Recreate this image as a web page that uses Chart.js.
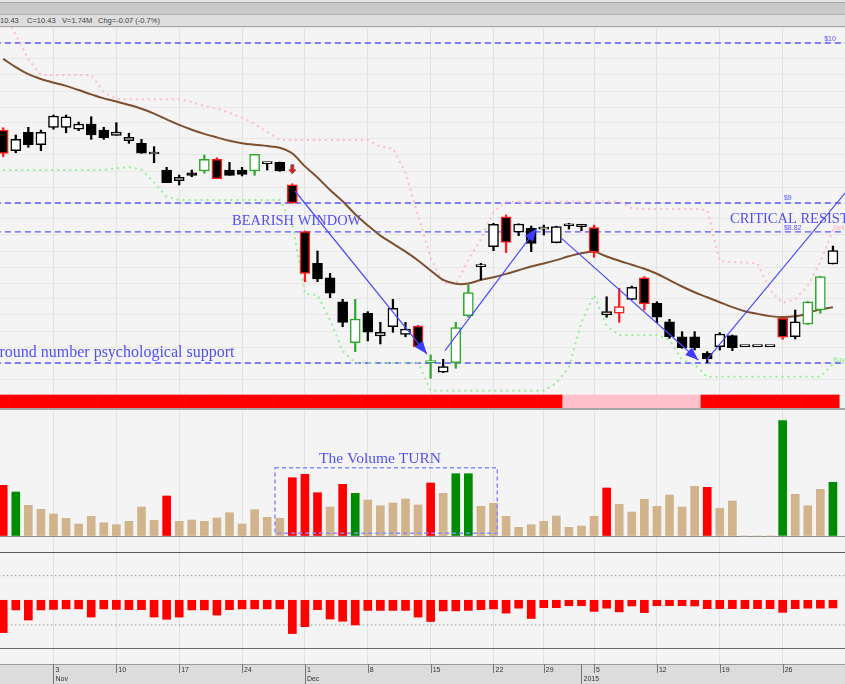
<!DOCTYPE html>
<html>
<head>
<meta charset="utf-8">
<script src="https://cdn.jsdelivr.net/npm/chart.js@4.4.1/dist/chart.umd.min.js"></script>
<style>
  body { margin:0; width:845px; height:684px; overflow:hidden; background:#f4f4f4; position:relative; font-family:"Liberation Sans", Arial, sans-serif; }
  .pane { position:absolute; left:0; width:845px; }
  .rule { position:absolute; left:0; width:845px; z-index:5; }
  .hd { position:absolute; top:16px; font-size:7.5px; color:#444; white-space:nowrap; z-index:6; }
</style>
</head>
<body>
<div class="rule" style="top:0;height:2px;background:#e4e4e4"></div>
<div class="rule" style="top:2px;height:1px;background:#a4a4a4"></div>
<div class="rule" style="top:3px;height:11px;background:#c9c9c9"></div>
<div class="rule" style="top:14px;height:1px;background:#b4b4b4"></div>
<div class="rule" style="top:15px;height:11px;background:#dedede"></div>
<div class="rule" style="top:26px;height:1px;background:#a4a4a4"></div>
<span class="hd" style="left:0">10.43</span>
<span class="hd" style="left:27px">C=10.43</span>
<span class="hd" style="left:62px">V=1.74M</span>
<span class="hd" style="left:98px">Chg=-0.07 (-0.7%)</span>

<div class="pane" style="top:27px;height:382px"><canvas id="price"></canvas></div>
<div class="pane" style="top:409px;height:143px"><canvas id="volume"></canvas></div>
<div class="pane" style="top:552px;height:132px"><canvas id="osc"></canvas></div>

<div class="rule" style="top:408px;height:2px;background:#a6a6a6"></div>
<div class="rule" style="top:552px;height:1px;background:#5a5a5a"></div>
<div class="rule" style="top:648px;height:1px;background:#6a6a6a"></div>

<script>
// trading days shown
const dates = [
  '2014-10-28','2014-10-29','2014-10-30','2014-10-31',
  '2014-11-03','2014-11-04','2014-11-05','2014-11-06','2014-11-07',
  '2014-11-10','2014-11-11','2014-11-12','2014-11-13','2014-11-14',
  '2014-11-17','2014-11-18','2014-11-19','2014-11-20','2014-11-21',
  '2014-11-24','2014-11-25','2014-11-26','2014-11-27','2014-11-28',
  '2014-12-01','2014-12-02','2014-12-03','2014-12-04','2014-12-05',
  '2014-12-08','2014-12-09','2014-12-10','2014-12-11','2014-12-12',
  '2014-12-15','2014-12-16','2014-12-17','2014-12-18','2014-12-19',
  '2014-12-22','2014-12-23','2014-12-24','2014-12-26',
  '2014-12-29','2014-12-30','2014-12-31',
  '2015-01-02','2015-01-05','2015-01-06','2015-01-07','2015-01-08','2015-01-09',
  '2015-01-12','2015-01-13','2015-01-14','2015-01-15','2015-01-16',
  '2015-01-19','2015-01-20','2015-01-21','2015-01-22','2015-01-23',
  '2015-01-26','2015-01-27','2015-01-28','2015-01-29','2015-01-30'
];

const opens = [9.456,9.327,9.442,9.364,9.473,9.473,9.461,9.494,9.456,9.423,
  9.389,9.373,9.306,9.206,9.139,9.189,9.200,9.273,9.206,9.206,
  9.200,9.246,9.254,9.113,8.821,8.623,8.533,8.383,8.127,8.311,
  8.169,8.227,8.179,8.231,8.002,7.942,8.002,8.296,8.602,8.727,
  8.914,8.817,8.842,8.837,8.752,8.858,8.852,8.846,8.300,8.311,
  8.398,8.533,8.373,8.258,8.164,8.164,8.061,8.102,8.171,8.102,
  8.102,8.102,8.279,8.164,8.242,8.331,8.619];
const highs = [9.470,9.425,9.473,9.456,9.550,9.550,9.506,9.539,9.473,9.502,
  9.436,9.398,9.352,9.223,9.175,9.206,9.300,9.283,9.254,9.223,
  9.304,9.250,9.256,9.120,8.825,8.700,8.560,8.398,8.398,8.321,
  8.254,8.398,8.254,8.235,8.050,8.023,8.254,8.488,8.623,8.873,
  8.925,8.870,8.856,8.862,8.855,8.873,8.867,8.862,8.414,8.467,
  8.481,8.540,8.383,8.273,8.196,8.196,8.071,8.190,8.175,8.102,
  8.102,8.102,8.280,8.331,8.385,8.542,8.731];
const lows = [9.290,9.314,9.348,9.327,9.461,9.439,9.452,9.398,9.398,9.423,
  9.373,9.311,9.252,9.127,9.113,9.164,9.186,9.152,9.173,9.169,
  9.173,9.206,9.198,8.998,8.508,8.508,8.408,8.227,8.071,8.138,
  8.119,8.192,8.164,8.100,7.904,7.940,7.967,8.286,8.519,8.702,
  8.690,8.796,8.696,8.800,8.750,8.837,8.827,8.661,8.286,8.254,
  8.396,8.331,8.252,8.154,8.092,8.081,8.002,8.081,8.077,8.102,
  8.102,8.102,8.148,8.150,8.240,8.311,8.619];
const closes = [9.310,9.398,9.364,9.442,9.544,9.539,9.494,9.425,9.408,9.444,
  9.411,9.311,9.306,9.127,9.161,9.173,9.273,9.152,9.173,9.179,
  9.304,9.246,9.200,9.000,8.560,8.525,8.436,8.254,8.275,8.192,
  8.192,8.342,8.212,8.102,8.002,7.977,8.221,8.440,8.602,8.867,
  8.754,8.869,8.748,8.837,8.852,8.858,8.867,8.692,8.321,8.352,
  8.473,8.369,8.286,8.164,8.096,8.096,8.025,8.181,8.096,8.102,
  8.102,8.102,8.161,8.258,8.383,8.540,8.702];
// candle highlight: r = red outline, g = green outline
const candleMark = ['r','','','','','','','','','',
  '','','','','','','g','r','','',
  'g','','','r','r','','','','g','',
  '','','','r','g','','g','g','','',
  'r','','','','','','','r','','r',
  '','r','','','','','','','','',
  '','','r','','g','g',''];

const movingAvg = [9.901,9.849,9.805,9.775,9.752,9.732,9.706,9.679,9.654,9.634,
  9.613,9.589,9.559,9.523,9.488,9.458,9.432,9.410,9.389,9.374,
  9.364,9.356,9.345,9.309,9.229,9.160,9.081,9.011,8.930,8.860,
  8.796,8.746,8.696,8.641,8.578,8.519,8.495,8.497,8.520,8.536,
  8.557,8.580,8.603,8.622,8.643,8.667,8.686,8.695,8.666,8.639,
  8.614,8.589,8.558,8.518,8.478,8.442,8.411,8.380,8.349,8.323,
  8.307,8.293,8.287,8.292,8.311,8.336,8.348];
const sellStop = [10.20,10.05,9.897,9.800,9.800,9.800,9.800,9.800,9.694,9.648,
  9.648,9.648,9.648,9.648,9.648,9.631,9.606,9.591,9.563,9.534,
  9.494,9.444,9.394,9.394,9.394,9.394,9.394,9.394,9.394,9.394,
  9.352,9.341,9.190,8.920,8.660,8.500,8.494,8.644,8.775,8.944,
  9.008,9.008,9.008,9.008,9.008,9.008,9.008,9.008,9.008,9.008,
  8.967,8.963,8.963,8.963,8.963,8.963,8.956,8.638,8.631,8.628,
  8.623,8.456,8.375,8.400,8.481,8.631,8.831];
const buyStop = [9.206,9.206,9.206,9.206,9.206,9.206,9.206,9.206,9.206,9.216,
  9.225,9.209,9.128,9.039,9.019,9.019,9.019,9.019,9.019,9.019,
  9.019,9.019,9.019,8.869,8.431,8.425,8.269,8.075,8.002,8.002,
  8.002,8.002,8.002,8.002,7.828,7.827,7.827,7.827,7.827,7.827,
  7.827,7.827,7.827,7.827,7.875,7.975,8.256,8.425,8.231,8.175,
  8.175,8.175,8.175,8.144,8.019,7.990,7.913,7.914,7.914,7.914,
  7.914,7.914,7.914,7.914,7.914,7.914,7.994];
// 1 = down trend (red), 0 = neutral (pink)
const trendState = [1,1,1,1,1,1,1,1,1,1, 1,1,1,1,1,1,1,1,1,1,
  1,1,1,1,1,1,1,1,1,1, 1,1,1,1,1,1,1,1,1,1, 1,1,1,1,1,
  0,0,0,0,0,0,0,0,0,0,0, 1,1,1,1,1,1,1,1,1,1,1];
const priceLevels = [10, 9, 8.82, 8];

// volume, millions
const volume = [1.014,0.880,0.614,0.534,0.440,0.354,0.240,0.394,0.266,0.226,
  0.294,0.580,0.314,0.800,0.294,0.320,0.294,0.360,0.466,0.240,
  0.526,0.374,0.354,1.166,1.234,0.866,0.580,1.034,0.854,0.720,
  0.606,0.660,0.740,0.620,1.060,0.854,1.246,1.246,0.594,0.654,
  0.394,0.174,0.226,0.294,0.400,0.174,0.200,0.394,0.960,0.634,
  0.480,0.734,0.594,0.820,0.580,0.994,0.974,0.554,0.700,0,
  0,0,2.306,0.834,0.606,0.934,1.074];
const volumeMark = ['r','g','','','','','','','','',
  '','','','r','','','','','','',
  '','','','r','r','r','','r','g','',
  '','','','','r','','g','g','','',
  '','','','','','','','','r','',
  '','','','','','','r','','','',
  '','','g','','','','g'];

const oscillator = [-1.31,-0.39,-0.80,-0.39,-0.37,-0.35,-0.35,-0.68,-0.35,-0.37,
  -0.38,-0.38,-0.68,-0.77,-0.68,-0.39,-0.39,-0.60,-0.38,-0.35,
  -0.35,-0.35,-0.35,-1.35,-1.07,-0.38,-0.76,-0.85,-1.00,-0.41,
  -0.41,-0.41,-0.41,-0.68,-0.86,-0.43,-0.43,-0.41,-0.38,-0.35,
  -0.52,-0.32,-0.74,-0.30,-0.30,-0.22,-0.22,-0.45,-0.32,-0.47,
  -0.23,-0.50,-0.22,-0.22,-0.22,-0.23,-0.34,-0.34,-0.34,-0.34,
  -0.34,-0.34,-0.49,-0.34,-0.32,-0.32,-0.31];
const oscLevels = [1, -1];

// trend arrows drawn on the price panel: [index, price]
const arrowFrom = [[23.21, 9.075], [35.14, 8.077], [44.42, 8.779], [55.96, 8.019]];
const arrowTo   = [[33.71, 8.056], [42.44, 8.842], [55.29, 8.019], [68.0, 9.160]];
const arrowHead = [true, true, true, false];
const sellSignals = [23];

const X_MIN = -0.255, X_MAX = 66.96;
const BLUE = '#5555ff';
const monthNames = ['Jan','Feb','Mar','Apr','May','Jun','Jul','Aug','Sep','Oct','Nov','Dec'];

const dayInfo = dates.map((d, i) => {
  const dt = new Date(d + 'T00:00:00Z');
  const prev = i > 0 ? new Date(dates[i - 1] + 'T00:00:00Z') : null;
  return { monday: dt.getUTCDay() === 1, monthStart: prev !== null && prev.getUTCMonth() !== dt.getUTCMonth(), dt: dt };
});
const tickIdx = [];
dayInfo.forEach((d, i) => { if (d.monday || d.monthStart) tickIdx.push(i); });

function tickLabel(i) {
  const d = dayInfo[i];
  const top = d.monday ? String(d.dt.getUTCDate()) : '';
  if (!d.monthStart) return top;
  const m = d.dt.getUTCMonth();
  return [top, m === 0 ? String(d.dt.getUTCFullYear()) : monthNames[m]];
}

function xAxis(labels) {
  const ax = {
    type: 'linear', min: X_MIN, max: X_MAX, offset: false,
    afterBuildTicks: s => { s.ticks = tickIdx.map(i => ({ value: i, major: dayInfo[i].monthStart })); },
    grid: {
      color: c => (c.tick && !dayInfo[c.tick.value].monday) ? 'rgba(0,0,0,0)' : '#e2e2e2',
      drawTicks: false, lineWidth: 1, offset: false
    },
    border: { display: false },
    ticks: { display: false }
  };
  if (labels) {
    ax.ticks = {
      display: true, autoSkip: false, maxRotation: 0, align: 'start', labelOffset: 2, padding: 2,
      color: '#333', font: { family: 'Liberation Sans', size: 7, lineHeight: 1.29 },
      callback: v => tickLabel(v)
    };
    ax.border = { display: true, color: '#9a9a9a', width: 1 };
    ax.backgroundColor = '#dcdcdc';
    ax.afterFit = s => { s.height = 20; };
  }
  return ax;
}

const pts = arr => arr.map((v, i) => ({ x: i, y: v }));
const hline = v => [{ x: X_MIN - 2, y: v }, { x: X_MAX + 2, y: v }];

const marks = {
  id: 'marks',
  afterDatasetsDraw(chart, args, o) {
    const ctx = chart.ctx, xs = chart.scales.x, ys = chart.scales.y;
    ctx.save();
    (o.boxes || []).forEach(b => {
      ctx.setLineDash([4, 3]);
      ctx.strokeStyle = b.color; ctx.lineWidth = 1.5;
      const x1 = xs.getPixelForValue(b.x0), x2 = xs.getPixelForValue(b.x1);
      const y1 = ys.getPixelForValue(b.y1), y2 = ys.getPixelForValue(b.y0);
      ctx.strokeRect(x1, y1, x2 - x1, y2 - y1);
    });
    ctx.setLineDash([]);
    (o.heads || []).forEach(h => {
      const ax = xs.getPixelForValue(h.from[0]), ay = ys.getPixelForValue(h.from[1]);
      const bx = xs.getPixelForValue(h.to[0]), by = ys.getPixelForValue(h.to[1]);
      const ang = Math.atan2(by - ay, bx - ax), L = 13, W = 5;
      ctx.fillStyle = h.color;
      ctx.beginPath();
      ctx.moveTo(bx, by);
      ctx.lineTo(bx - L * Math.cos(ang) + W * Math.sin(ang), by - L * Math.sin(ang) - W * Math.cos(ang));
      ctx.lineTo(bx - L * Math.cos(ang) - W * Math.sin(ang), by - L * Math.sin(ang) + W * Math.cos(ang));
      ctx.closePath(); ctx.fill();
    });
    (o.signals || []).forEach(i => {
      const x = xs.getPixelForValue(i), y = ys.getPixelForValue(highs[i]) - 19;
      ctx.fillStyle = '#ff1010'; ctx.strokeStyle = '#555'; ctx.lineWidth = 0.8;
      ctx.beginPath();
      ctx.moveTo(x - 1.5, y); ctx.lineTo(x + 1.5, y); ctx.lineTo(x + 1.5, y + 5);
      ctx.lineTo(x + 3.5, y + 5); ctx.lineTo(x, y + 9); ctx.lineTo(x - 3.5, y + 5);
      ctx.lineTo(x - 1.5, y + 5); ctx.closePath();
      ctx.fill(); ctx.stroke();
    });
    (o.texts || []).forEach(t => {
      ctx.font = t.font; ctx.fillStyle = t.color; ctx.textBaseline = 'alphabetic'; ctx.textAlign = 'left';
      ctx.fillText(t.text, xs.getPixelForValue(t.x), ys.getPixelForValue(t.y));
    });
    ctx.restore();
  }
};

const dateTicks = {
  id: 'dateTicks',
  afterDraw(chart) {
    const xs = chart.scales.x, ctx = chart.ctx;
    ctx.save();
    ctx.strokeStyle = '#777'; ctx.lineWidth = 1;
    xs.ticks.forEach(t => {
      const x = Math.round(xs.getPixelForValue(t.value)) + 0.5;
      ctx.beginPath(); ctx.moveTo(x, xs.top); ctx.lineTo(x, xs.top + (t.major ? 20 : 9)); ctx.stroke();
    });
    ctx.restore();
  }
};

const base = {
  responsive: true, maintainAspectRatio: false, animation: false, events: [],
  layout: { padding: 0 },
  plugins: { legend: { display: false }, tooltip: { enabled: false } }
};

const serif = 'Liberation Serif, Times New Roman, serif';
const small = '7px Liberation Sans, Arial, sans-serif';

// ---------- price panel ----------
const priceSets = [];
priceSets.push({
  type: 'bar', order: 20, grouped: false, barPercentage: 1, categoryPercentage: 1,
  data: trendState.map((s, i) => ({ x: i, y: [7.71875, 7.8] })),
  backgroundColor: trendState.map(s => s ? '#ff0000' : '#ffc0cb'), borderWidth: 0
});
priceLevels.forEach(v => priceSets.push({
  type: 'line', order: 19, data: hline(v), borderColor: BLUE, borderWidth: 1.3,
  borderDash: [6, 4], pointRadius: 0
}));
priceSets.push({ type: 'line', order: 18, data: pts(sellStop), borderColor: '#ffbcc6', borderWidth: 2,
  borderDash: [2, 4], pointRadius: 0, tension: 0 });
priceSets.push({ type: 'line', order: 18, data: pts(buyStop), borderColor: '#98ee98', borderWidth: 2,
  borderDash: [2, 4], pointRadius: 0, tension: 0 });
priceSets.push({ type: 'line', order: 17, data: pts(movingAvg), borderColor: '#7d5130', borderWidth: 2,
  pointRadius: 0, tension: 0.35 });
const edge = candleMark.map(m => m === 'r' ? '#ff1a1a' : m === 'g' ? '#2fa82f' : '#000');
priceSets.push({
  type: 'bar', order: 16, grouped: false, barThickness: 1.6,
  data: lows.map((l, i) => ({ x: i, y: [l, highs[i]] })),
  backgroundColor: edge, borderWidth: 0
});
priceSets.push({
  type: 'bar', order: 15, grouped: false, barThickness: 10, minBarLength: 2,
  data: opens.map((o, i) => ({ x: i, y: [o, closes[i]] })),
  backgroundColor: opens.map((o, i) => closes[i] < o ? '#000' : '#fff'),
  borderColor: edge, borderWidth: 1.5, borderSkipped: false
});
arrowFrom.forEach((a, k) => priceSets.push({
  type: 'line', order: 10, data: [{ x: a[0], y: a[1] }, { x: arrowTo[k][0], y: arrowTo[k][1] }],
  borderColor: '#4a4aff', borderWidth: 1.2, pointRadius: 0
}));

new Chart(document.getElementById('price'), {
  data: { datasets: priceSets },
  options: Object.assign({}, base, {
    scales: {
      x: xAxis(false),
      y: {
        type: 'linear', min: 7.7125, max: 10.1,
        ticks: { display: false, stepSize: 0.1, includeBounds: false },
        grid: { color: '#e8e8e8', drawTicks: false }, border: { display: false }
      }
    },
    plugins: Object.assign({}, base.plugins, {
      marks: {
        heads: arrowFrom.map((a, k) => ({ from: a, to: arrowTo[k], color: '#3c3cff', show: arrowHead[k] })).filter(h => h.show),
        signals: sellSignals,
        texts: [
          { text: 'BEARISH WINDOW', x: 18.2, y: 8.8625, font: '14.5px ' + serif, color: '#5050f5' },
          { text: 'round number psychological support', x: -0.3, y: 8.0375, font: '16px ' + serif, color: '#5050f5' },
          { text: 'CRITICAL RESISTANCE', x: 57.81, y: 8.875, font: '14.5px ' + serif, color: '#5050f5' },
          { text: '$10', x: 65.3, y: 10.0125, font: small, color: '#5050f5' },
          { text: '$9', x: 62.1, y: 9.019, font: small, color: '#5050f5' },
          { text: '$8.82', x: 62.1, y: 8.831, font: small, color: '#5050f5' },
          { text: 'Sell', x: 66.0, y: 8.831, font: small, color: '#ffb0bc' },
          { text: 'Buy', x: 66.0, y: 8.006, font: small, color: '#90e890' }
        ]
      }
    })
  }),
  plugins: [marks]
});

// ---------- volume panel ----------
new Chart(document.getElementById('volume'), {
  type: 'bar',
  data: { datasets: [{
    data: pts(volume), grouped: false, barThickness: 8,
    backgroundColor: volumeMark.map(m => m === 'r' ? '#ff0000' : m === 'g' ? '#008c00' : '#d2b48c'),
    borderWidth: 0
  }] },
  options: Object.assign({}, base, {
    scales: {
      x: xAxis(false),
      y: {
        type: 'linear', min: -0.32, max: 2.54,
        afterBuildTicks: s => { s.ticks = [{ value: 0 }]; },
        ticks: { display: false }, grid: { color: '#8c8c8c', drawTicks: false }, border: { display: false }
      }
    },
    plugins: Object.assign({}, base.plugins, {
      marks: {
        boxes: [{ x0: 21.62, x1: 39.30, y0: 0.054, y1: 1.366, color: '#8a8aff' }],
        texts: [{ text: 'The Volume TURN', x: 25.12, y: 1.46, font: '15.5px ' + serif, color: '#5050f5' }]
      }
    })
  }),
  plugins: [marks]
});

// ---------- oscillator panel with date axis ----------
const oscSets = [{
  type: 'bar', data: pts(oscillator), grouped: false, barThickness: 8,
  backgroundColor: '#ff0000', borderWidth: 0
}];
oscLevels.forEach(v => oscSets.push({
  type: 'line', data: hline(v), borderColor: '#9a9a9a', borderWidth: 1, borderDash: [1.5, 2.5], pointRadius: 0
}));

new Chart(document.getElementById('osc'), {
  data: { datasets: oscSets },
  options: Object.assign({}, base, {
    scales: {
      x: xAxis(true),
      y: { type: 'linear', min: -2.584, max: 1.959, display: false }
    }
  }),
  plugins: [dateTicks]
});
</script>
</body>
</html>
